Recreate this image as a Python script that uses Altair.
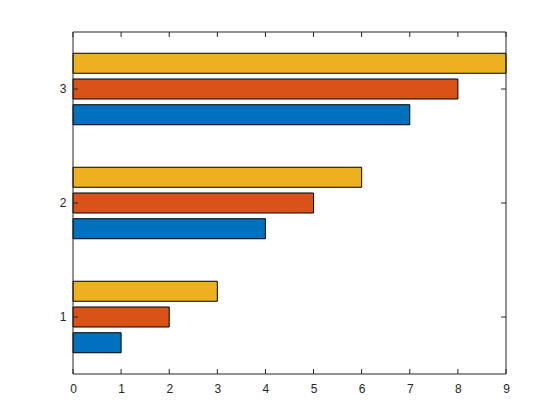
import altair as alt
import pandas as pd

# bar values
groups = [1, 2, 3]
series_1 = [1, 4, 7]
series_2 = [2, 5, 8]
series_3 = [3, 6, 9]
x_ticks = [0, 1, 2, 3, 4, 5, 6, 7, 8, 9]
colors = ['#0072BD', '#D95319', '#EDB120']

rows = []
for name, vals in [('1', series_1), ('2', series_2), ('3', series_3)]:
    for g, v in zip(groups, vals):
        rows.append({'group': g, 'series': name, 'value': v})
bars_df = pd.DataFrame(rows)
xt_df = pd.DataFrame({'value': x_ticks})
yt_df = pd.DataFrame({'group': groups})

W, H = 433, 342
axis_col = '#262626'

x_scale = alt.Scale(domain=[0, 9], nice=False, zero=True)
y_scale = alt.Scale(paddingInner=0, paddingOuter=0)
x_axis = alt.Axis(values=x_ticks, ticks=False, domain=False, grid=False,
                  labelFlush=False, labelPadding=9, labelFontSize=12,
                  labelColor=axis_col, labelFont='Liberation Sans', title=None)
y_axis = alt.Axis(ticks=False, domain=False, grid=False, labelAngle=0,
                  labelPadding=7, labelFontSize=12, labelColor=axis_col,
                  labelFont='Liberation Sans', title=None)

bars = alt.Chart(bars_df).mark_bar(stroke='black', strokeWidth=1).encode(
    x=alt.X('value:Q', scale=x_scale, axis=x_axis),
    y=alt.Y('group:O', sort='descending', scale=y_scale, axis=y_axis),
    yOffset=alt.YOffset('series:N', sort=['3', '2', '1'],
                        scale=alt.Scale(paddingInner=0.222, paddingOuter=0.826)),
    color=alt.Color('series:N', scale=alt.Scale(domain=['1', '2', '3'], range=colors),
                    legend=None)
)

# inward tick marks on all four sides (MATLAB box style)
tick_bottom = alt.Chart(xt_df).mark_rule(color=axis_col).encode(
    x=alt.X('value:Q', scale=x_scale, axis=x_axis),
    y=alt.value(H), y2=alt.value(H - 5)
)
tick_top = alt.Chart(xt_df).mark_rule(color=axis_col).encode(
    x=alt.X('value:Q', scale=x_scale, axis=x_axis),
    y=alt.value(0), y2=alt.value(5)
)
tick_left = alt.Chart(yt_df).mark_rule(color=axis_col).encode(
    y=alt.Y('group:O', sort='descending', scale=y_scale, axis=y_axis),
    x=alt.value(0), x2=alt.value(5)
)
tick_right = alt.Chart(yt_df).mark_rule(color=axis_col).encode(
    y=alt.Y('group:O', sort='descending', scale=y_scale, axis=y_axis),
    x=alt.value(W), x2=alt.value(W - 5)
)

# axes box
frame = alt.Chart(yt_df.head(1)).mark_rect(fill=None, stroke=axis_col, strokeWidth=1).encode(
    x=alt.value(0), x2=alt.value(W), y=alt.value(0), y2=alt.value(H)
)

chart = alt.layer(bars, tick_bottom, tick_top, tick_left, tick_right, frame).properties(
    width=W,
    height=H,
    autosize='none',
    padding={'left': 65, 'top': 24, 'right': 30, 'bottom': 40}
).configure_view(
    stroke=None
)

chart.save("out.html", embed_options={"renderer": "svg", "actions": False})
